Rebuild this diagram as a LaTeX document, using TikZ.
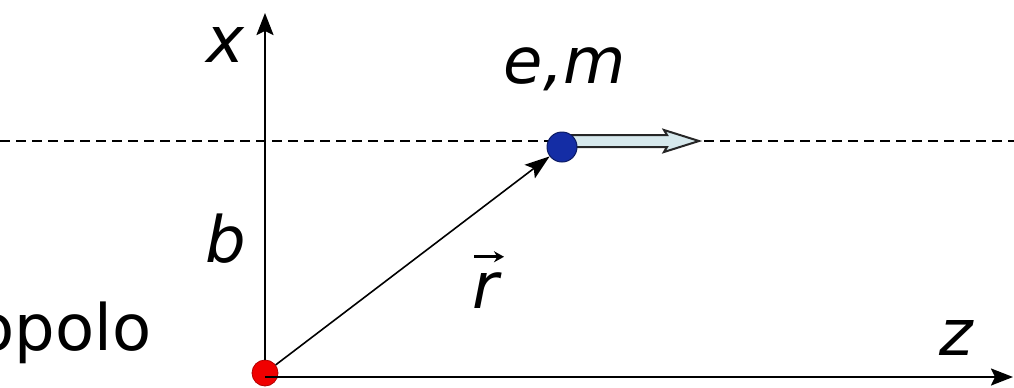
\documentclass[tikz,border=0pt]{standalone}
\usepackage{fontspec}
\setmainfont{DejaVu Sans}
\usetikzlibrary{arrows.meta}
\definecolor{reddot}{RGB}{240,0,0}
\definecolor{bluedot}{RGB}{20,45,165}
\definecolor{hollow}{RGB}{214,232,236}
\tikzset{
  axis/.style={line width=1.1pt, -{Stealth[length=11pt,width=8.5pt,inset=2pt]}},
  posvec/.style={line width=0.8pt, -{Stealth[length=12.5pt,width=8.5pt,inset=2.5pt]}},
  lbl/.style={font=\fontsize{32}{38}\selectfont\itshape, inner sep=0pt, anchor=base},
  dot/.style={circle, inner sep=0pt, minimum size=#1},
  vecarrow/.style={line width=1.5pt, -{Stealth[length=5pt,width=5.5pt]}},
}
\begin{document}
\begin{tikzpicture}[x=0.5pt,y=-0.5pt]
\useasboundingbox (0,0) rectangle (1014,387);
\clip (0,0) rectangle (1014,387);
% dashed trajectory
\draw[line width=0.6pt, dash pattern=on 5pt off 3pt] (0,141) -- (1014,141);
% coordinates
\coordinate (O) at (265,377);
\coordinate (xtip) at (265,13);
\coordinate (ztip) at (1013,377);
% hollow velocity arrow
\draw[fill=hollow, draw=black!85, line width=1pt]
  (570,135) -- (667,135) -- (664,130) -- (699,141) -- (664,152) -- (667,147) -- (570,147) -- cycle;
% dots
\node[dot=13pt, fill=reddot, draw=red!70!black, line width=0.4pt] (red) at (265,373) {};
\node[dot=15pt, fill=bluedot, draw=bluedot!60!black, line width=0.5pt] (blue) at (562,147) {};
% axes
\draw[axis] (red.north) -- (xtip);
\draw[axis] (O) -- (ztip);
% position vector
\draw[posvec] (red) -- (blue);
% labels
\node[lbl] (xl) at (225,62) {x};
\node[lbl] (em) at (565,83) {e,m};
\node[lbl] (bl) at (226,262) {b};
\node[lbl] (zl) at (956,355) {z};
\node[lbl] (rl) at (486,308) {r};
\draw[vecarrow] ([xshift=-6pt,yshift=7.5pt]rl.north) -- ++(15pt,0);
\node[font=\fontsize{32}{38}\selectfont, inner sep=0pt, anchor=base east] (mono) at (152,350) {Monopolo};
\end{tikzpicture}
\end{document}
